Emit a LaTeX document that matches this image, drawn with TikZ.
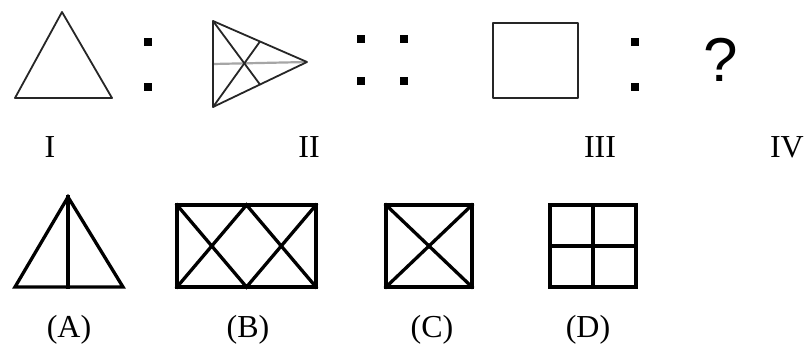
\documentclass[tikz,border=0pt]{standalone}
\usepackage{fontspec}
\setmainfont{Liberation Serif}
\newfontfamily\qfont{Liberation Sans}
\usetikzlibrary{calc}
\begin{document}
\begin{tikzpicture}[x=1pt,y=-1pt,
  thinfig/.style={line width=1.8pt, draw=black!85, line join=round},
  thickfig/.style={line width=3.3pt, line join=miter, line cap=rect},
  dotbox/.style={fill=black, minimum size=8pt, inner sep=0pt, draw=none, rectangle},
  lbl/.style={font=\fontsize{32}{38}\selectfont, inner sep=0pt, anchor=base}]
\useasboundingbox (0,0) rectangle (805,345);
\fill[white] (0,0) rectangle (805,345);

% Figure I
\coordinate (Ia) at (62,12);
\coordinate (Ib) at (15,98);
\coordinate (Ic) at (112,98);
\draw[thinfig] (Ia) -- (Ib) -- (Ic) -- cycle;

% colon 1
\node[dotbox] (c1a) at (148,42) {};
\node[dotbox] (c1b) at (148,87) {};

% Figure II
\coordinate (IIa) at (213,21);
\coordinate (IIb) at (213,107);
\coordinate (IIc) at (307,62);
\draw[line width=2.2pt, draw=black!35] ($(IIa)!0.5!(IIb)$) -- (IIc);
\draw[thinfig] (IIa) -- ($(IIb)!0.5!(IIc)$);
\draw[thinfig] (IIb) -- ($(IIa)!0.5!(IIc)$);
\draw[thinfig] (IIa) -- (IIb) -- (IIc) -- cycle;

% double colon
\node[dotbox] (d1) at (361,39) {};
\node[dotbox] (d2) at (404,39) {};
\node[dotbox] (d3) at (361,81) {};
\node[dotbox] (d4) at (404,81) {};

% Figure III
\coordinate (IIIa) at (493,23);
\coordinate (IIIb) at (578,98);
\draw[thinfig, line width=2.2pt] (IIIa) rectangle (IIIb);

% colon 2
\node[dotbox] (c2a) at (635,42) {};
\node[dotbox] (c2b) at (635,87) {};

% question mark
\node[font=\qfont\fontsize{62}{70}\selectfont, inner sep=0pt, text=black] (q) at (721,60) {?};

% roman labels
\node[lbl] (lI) at (50,157) {I};
\node[lbl] (lII) at (309,157) {II};
\node[lbl] (lIII) at (600,157) {III};
\node[lbl, anchor=base east] (lIV) at (804,157) {IV};

% Option A
\coordinate (Aa) at (68,197);
\coordinate (Ab) at (15,287);
\coordinate (Ac) at (123,287);
\coordinate (Am) at (68,287);
\draw[thickfig] (Ab) -- (Aa) -- (Ac) -- cycle;
\draw[thickfig] (Aa) -- (Am);

% Option B
\coordinate (Btl) at (177,205);
\coordinate (Bbr) at (316,287);
\coordinate (Bbl) at (177,287);
\coordinate (Btr) at (316,205);
\coordinate (Btm) at (246.5,205);
\coordinate (Bbm) at (246.5,287);
\draw[thickfig, line width=3.8pt] (Btl) rectangle (Bbr);
\draw[thickfig] (Btl) -- (Bbm) -- (Btr);
\draw[thickfig] (Bbl) -- (Btm) -- (Bbr);

% Option C
\coordinate (Ctl) at (386,205);
\coordinate (Cbr) at (472,287);
\coordinate (Cbl) at (386,287);
\coordinate (Ctr) at (472,205);
\draw[thickfig, line width=3.8pt] (Ctl) rectangle (Cbr);
\draw[thickfig] (Ctl) -- (Cbr);
\draw[thickfig] (Cbl) -- (Ctr);

% Option D
\coordinate (Dtl) at (550,205);
\coordinate (Dbr) at (636,287);
\coordinate (Dtm) at (593,205);
\coordinate (Dbm) at (593,287);
\coordinate (Dlm) at (550,246);
\coordinate (Drm) at (636,246);
\draw[thickfig, line width=3.8pt] (Dtl) rectangle (Dbr);
\draw[thickfig] (Dtm) -- (Dbm);
\draw[thickfig] (Dlm) -- (Drm);

% option labels
\node[lbl] (lA) at (69,337) {(A)};
\node[lbl] (lB) at (248,337) {(B)};
\node[lbl] (lC) at (432,337) {(C)};
\node[lbl] (lD) at (588,337) {(D)};
\end{tikzpicture}
\end{document}
